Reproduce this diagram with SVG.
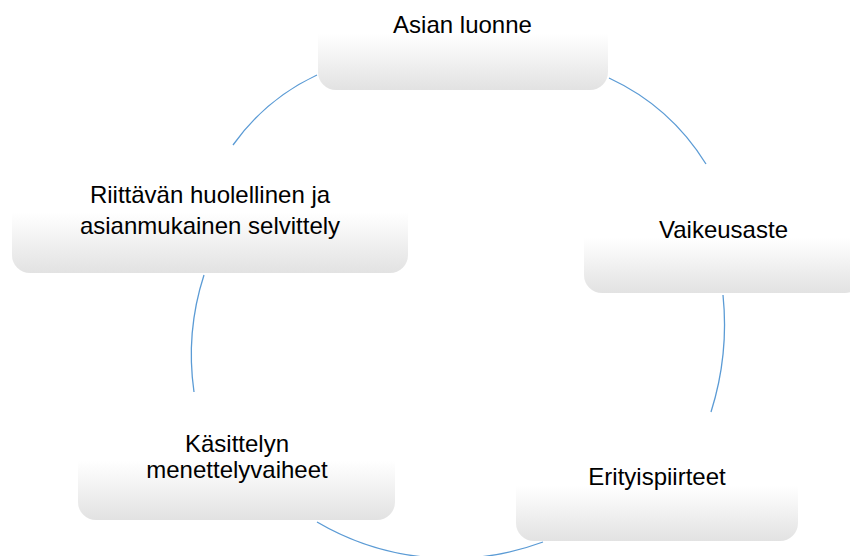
<svg xmlns="http://www.w3.org/2000/svg" width="850" height="556" viewBox="0 0 850 556">
<defs>
<linearGradient id="g" x1="0" y1="0" x2="0" y2="1">
<stop offset="0" stop-color="#ffffff"/>
<stop offset="0.45" stop-color="#ffffff"/>
<stop offset="1" stop-color="#e2e2e2"/>
</linearGradient>
</defs>
<style>
.box{fill:url(#g);}
.t{font-family:"Liberation Sans",Arial,sans-serif;font-size:24px;fill:#000;text-anchor:middle;}
.c{fill:none;stroke:#5b9bd5;stroke-width:1.3;}
</style>
<g id="connectors">
<path class="c" d="M233,145 A215,215 0 0 1 317,75"/>
<path class="c" d="M609,78 A226,226 0 0 1 706,164"/>
<path class="c" d="M723,295 A290,290 0 0 1 711,412"/>
<path class="c" d="M543,542 A265,265 0 0 1 317,522"/>
<path class="c" d="M194,392 A260,260 0 0 1 204,275"/>
</g>
<g id="node1">
<rect class="box" x="318" y="-12" width="290" height="102" rx="18"/>
<text class="t" x="462.5" y="33">Asian luonne</text>
</g>
<g id="node2">
<rect class="box" x="584" y="193" width="279" height="100" rx="18"/>
<text class="t" x="723.5" y="238">Vaikeusaste</text>
</g>
<g id="node3">
<rect class="box" x="516" y="441" width="282" height="100" rx="18"/>
<text class="t" x="657" y="485">Erityispiirteet</text>
</g>
<g id="node4">
<rect class="box" x="78" y="412" width="317" height="108" rx="18"/>
<text class="t" x="237" y="452">Käsittelyn</text>
<text class="t" x="237" y="478">menettelyvaiheet</text>
</g>
<g id="node5">
<rect class="box" x="12" y="163" width="396" height="110" rx="18"/>
<text class="t" x="210" y="203">Riittävän huolellinen ja</text>
<text class="t" x="210" y="234">asianmukainen selvittely</text>
</g>
</svg>
